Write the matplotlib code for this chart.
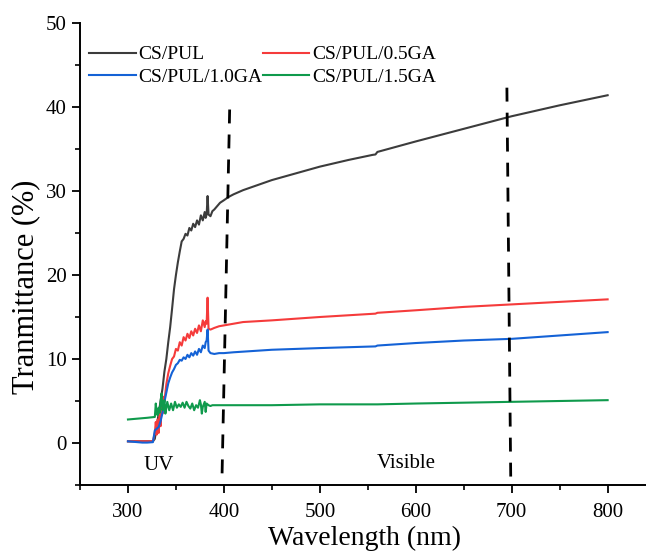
import matplotlib
matplotlib.use("Agg")
import matplotlib.pyplot as plt
from matplotlib.ticker import MultipleLocator

plt.rcParams['font.family'] = ['Liberation Serif', 'DejaVu Serif']

# === DATA ===
# UV-vis transmittance spectra of the films (wavelength in nm, T in %)
gray_wl = [300, 310, 320, 326, 328, 330, 332, 334, 336, 338, 340, 342, 344, 346,
           348, 350, 352, 354, 356, 358, 360, 362, 364, 366, 368, 370, 372, 374,
           376, 378, 380, 381, 382, 383, 384, 386, 388, 390, 393, 396, 400, 405,
           410, 420, 435, 450, 475, 500, 530, 555, 558, 560, 600, 650, 700, 750, 800]
gray_T = [0.2, 0.2, 0.2, 0.2, 0.5, 2.0, 3.5, 5.0, 6.5, 8.5, 10.0, 12.0, 13.8, 16.0,
          18.3, 20.0, 21.5, 22.8, 24.0, 24.3, 24.9, 24.7, 25.6, 25.3, 26.1, 25.7, 26.5, 26.0,
          27.1, 26.5, 27.5, 26.8, 27.2, 29.4, 27.2, 27.0, 27.6, 27.8, 28.2, 28.6, 28.9, 29.3,
          29.6, 30.1, 30.7, 31.3, 32.1, 32.9, 33.7, 34.3, 34.35, 34.65, 35.9, 37.4, 38.9, 40.2, 41.4]

red_wl = [300, 310, 320, 326, 328, 329, 330, 331, 332, 333, 334, 335, 336, 337, 338,
          340, 342, 344, 346, 348, 350, 352, 354, 356, 358, 360, 362, 364, 366, 368,
          370, 372, 374, 376, 378, 380, 381, 382, 383, 384, 386, 390, 395, 400, 410,
          420, 450, 500, 558, 560, 600, 650, 700, 750, 800]
red_T = [0.2, 0.2, 0.2, 0.2, 1.2, 2.5, 1.0, 2.8, 1.2, 3.5, 2.0, 4.5, 3.5, 5.5, 5.0,
         7.0, 8.3, 9.2, 10.0, 10.3, 11.2, 11.0, 12.0, 11.6, 12.6, 12.2, 13.0, 12.5, 13.3, 12.8,
         13.6, 13.1, 14.0, 13.3, 14.6, 13.8, 14.5, 14.2, 17.3, 13.6, 13.5, 13.7, 13.9, 14.0, 14.2,
         14.4, 14.6, 15.0, 15.4, 15.5, 15.8, 16.2, 16.5, 16.8, 17.1]

blue_wl = [300, 305, 310, 315, 320, 326, 328, 330, 332, 334, 336, 338, 340, 342, 344,
           346, 348, 350, 352, 354, 356, 358, 360, 362, 364, 366, 368, 370, 372, 374,
           376, 378, 380, 381, 382, 383, 384, 386, 390, 395, 400, 410, 450, 500, 558,
           560, 600, 650, 700, 750, 800]
blue_T = [0.2, 0.15, 0.1, 0.05, 0.05, 0.1, 1.5, 1.7, 1.9, 2.6, 3.6, 4.9, 6.0, 7.1, 7.8,
          8.4, 8.8, 9.3, 9.5, 9.9, 9.8, 10.2, 10.0, 10.5, 10.2, 10.7, 10.4, 10.9, 10.5, 11.2,
          10.8, 11.6, 11.3, 12.0, 12.2, 13.5, 11.0, 10.7, 10.6, 10.7, 10.7, 10.8, 11.1, 11.3, 11.5,
          11.6, 11.9, 12.2, 12.4, 12.8, 13.2]

green_wl = [300, 310, 320, 328, 329, 330, 331, 332, 333, 334, 335, 336, 337, 338, 339,
            340, 341, 343, 345, 347, 349, 351, 353, 355, 357, 359, 361, 363, 365, 367,
            369, 371, 373, 375, 376, 377, 378, 380, 381, 382, 384, 386, 388, 390, 400,
            450, 500, 560, 600, 650, 700, 750, 800]
green_T = [2.8, 2.9, 3.0, 3.1, 4.7, 3.5, 3.3, 4.2, 3.6, 4.9, 5.9, 3.9, 4.4, 5.1, 3.5,
           4.2, 4.9, 3.9, 4.7, 3.9, 4.9, 4.2, 4.6, 4.3, 4.8, 4.2, 4.9, 4.4, 4.1, 4.7,
           3.9, 4.5, 4.2, 5.1, 4.6, 3.5, 4.3, 4.9, 3.7, 4.7, 4.5, 4.4, 4.5, 4.5, 4.5,
           4.5, 4.6, 4.6, 4.7, 4.8, 4.9, 5.0, 5.1]

# region boundaries (hand-drawn dashed markers, slightly tilted)
uv_line_x = [406, 398]
uv_line_y = [39.7, -4.2]
vis_line_x = [695, 699]
vis_line_y = [42.3, -4.2]

# === FIGURE ===
fig = plt.figure(figsize=(6.46, 5.51), dpi=100)
ax = fig.add_axes([80 / 646, 66 / 551, 566 / 646, 462 / 551])

l_gray, = ax.plot(gray_wl, gray_T, color='#3c3c3c', lw=1.5, label='CS/PUL')
l_red, = ax.plot(red_wl, red_T, color='#f53b3b', lw=1.5, label='CS/PUL/0.5GA')
l_blue, = ax.plot(blue_wl, blue_T, color='#1462d6', lw=1.5, label='CS/PUL/1.0GA')
l_green, = ax.plot(green_wl, green_T, color='#0f9a4c', lw=1.5, label='CS/PUL/1.5GA')

ax.plot(uv_line_x, uv_line_y, color='black', lw=2, linestyle=(0, (5, 4)))
ax.plot(vis_line_x, vis_line_y, color='black', lw=2, linestyle=(0, (5, 4)))

ax.text(332, -2.7, 'UV', fontsize=15, ha='center', va='center')
ax.text(590, -2.5, 'Visible', fontsize=15, ha='center', va='center')

ax.set_xlim(250, 840)
ax.set_ylim(-5, 50)
ax.xaxis.set_minor_locator(MultipleLocator(50))
ax.yaxis.set_minor_locator(MultipleLocator(5))
ax.set_xticks([300, 400, 500, 600, 700, 800])
ax.set_yticks([0, 10, 20, 30, 40, 50])

for side in ['top', 'right']:
    ax.spines[side].set_visible(False)
for side in ['left', 'bottom']:
    ax.spines[side].set_linewidth(1.4)

ax.tick_params(which='major', direction='out', length=6, width=1.3, labelsize=15)
ax.tick_params(axis='x', which='major', pad=7)
ax.tick_params(which='minor', direction='out', length=3.5, width=1.2)

ax.set_xlabel('Wavelength (nm)', fontsize=20)
ax.xaxis.set_label_coords(0.502, -0.088)
ax.set_ylabel('Tranmittance (%)', fontsize=22)
ax.yaxis.set_label_coords(-0.07, 0.43)

ax.legend(handles=[l_gray, l_blue, l_red, l_green], ncol=2, loc='upper left',
          bbox_to_anchor=(-0.008, 0.98), frameon=False, fontsize=14,
          handlelength=2.4, handletextpad=0.15, columnspacing=0.0,
          labelspacing=0.25, borderpad=0.2)

fig.savefig('out.png', dpi=100, facecolor='white')
